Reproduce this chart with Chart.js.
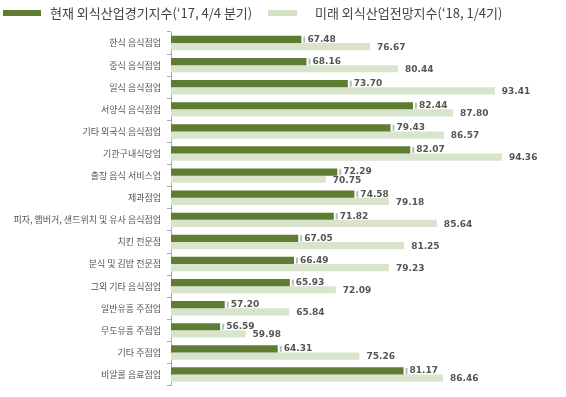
<!DOCTYPE html>
<html>
<head>
<meta charset="utf-8">
<script src="https://cdn.jsdelivr.net/npm/chart.js@4"></script>
<style>
    body { margin: 0; background: #fff; font-family: "Noto Sans CJK KR", sans-serif; }
    #wrap { position: relative; width: 566px; height: 397px; }
    .legend-item { position: absolute; top: 3px; font-size: 13px; color: #444; display: flex; align-items: center; white-space: nowrap; }
    .swatch { display: inline-block; height: 6px; margin-right: 9px; }
</style>
</head>
<body>
<div id="wrap">
    <canvas id="chart" width="566" height="397"></canvas>
    <div class="legend-item" style="left:3px;"><span class="swatch" style="width:38px;background:#5e7d32"></span><span id="lg0"></span></div>
    <div class="legend-item" style="left:268px;"><span class="swatch" style="width:29px;background:#d6e2c8;margin-right:18px"></span><span id="lg1"></span></div>
</div>
<script>
// ============================================================================
// DATA
// ============================================================================
const categories = [
    '한식 음식점업', '중식 음식점업', '일식 음식점업', '서양식 음식점업',
    '기타 외국식 음식점업', '기관구내식당업', '출장 음식 서비스업', '제과점업',
    '피자, 햄버거, 샌드위치 및 유사 음식점업', '치킨 전문점', '분식 및 김밥 전문점',
    '그외 기타 음식점업', '일반유흥 주점업', '무도유흥 주점업', '기타 주점업', '비알콜 음료점업'
];
const seriesNames = ['현재 외식산업경기지수(‘17, 4/4 분기)', '미래 외식산업전망지수(‘18, 1/4기)'];
const currentIndex = [67.48, 68.16, 73.70, 82.44, 79.43, 82.07, 72.29, 74.58, 71.82, 67.05, 66.49, 65.93, 57.20, 56.59, 64.31, 81.17];
const futureIndex = [76.67, 80.44, 93.41, 87.80, 86.57, 94.36, 70.75, 79.18, 85.64, 81.25, 79.23, 72.09, 65.84, 59.98, 75.26, 86.46];

document.getElementById('lg0').textContent = seriesNames[0];
document.getElementById('lg1').textContent = seriesNames[1];

// ============================================================================
// PLUGIN: value labels (with small gray marker after the dark bars)
// ============================================================================
const valueLabels = {
    id: 'valueLabels',
    afterDatasetsDraw(chart) {
        const ctx = chart.ctx;
        ctx.save();
        ctx.font = 'bold 9px "DejaVu Sans", sans-serif';
        ctx.fillStyle = '#555';
        ctx.textBaseline = 'middle';
        chart.data.datasets.forEach((ds, di) => {
            chart.getDatasetMeta(di).data.forEach((bar, i) => {
                const v = ds.data[i];
                let x = bar.x;
                if (di === 0) {
                    ctx.fillStyle = '#bbb';
                    ctx.fillRect(x + 2, bar.y - 3, 2, 6);
                    ctx.fillStyle = '#555';
                    x += 6;
                } else {
                    x += 7;
                }
                ctx.fillText(v.toFixed(2), x, bar.y + (di === 1 ? 1 : 0));
            });
        });
        ctx.restore();
    }
};

// ============================================================================
// CHART
// ============================================================================
new Chart(document.getElementById('chart'), {
    type: 'bar',
    data: {
        labels: categories,
        datasets: [
            { label: seriesNames[0], data: currentIndex, backgroundColor: '#5e7d32' },
            { label: seriesNames[1], data: futureIndex, backgroundColor: '#d9e4cc' }
        ]
    },
    options: {
        indexAxis: 'y',
        responsive: false,
        animation: false,
        categoryPercentage: 0.65,
        barPercentage: 1,
        layout: { padding: { top: 32, right: 22, bottom: 11, left: 0 } },
        plugins: {
            legend: { display: false },
            tooltip: { enabled: false }
        },
        scales: {
            x: { display: false, min: 50, max: 100 },
            y: {
                afterFit(scale) { scale.width = 171; },
                border: { color: '#aaa' },
                grid: { drawOnChartArea: false, tickLength: 4, color: '#aaa' },
                ticks: {
                    font: { size: 9, family: '"Noto Sans CJK KR", sans-serif' },
                    color: '#555',
                    padding: 6,
                    autoSkip: false
                }
            }
        }
    },
    plugins: [valueLabels]
});
</script>
</body>
</html>
